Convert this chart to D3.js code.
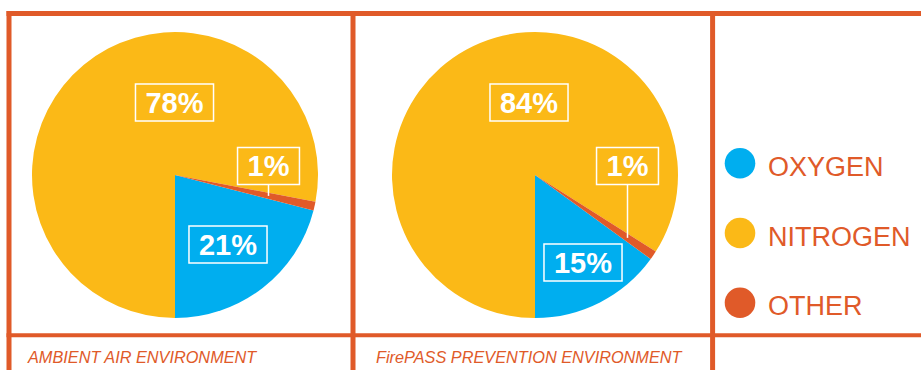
<!DOCTYPE html>
<html>
<head>
<meta charset="utf-8">
<script src="https://cdn.jsdelivr.net/npm/d3@7"></script>
<style>
  html, body { margin: 0; padding: 0; background: #fff; }
  svg { display: block; }
</style>
</head>
<body>
<div id="chart"></div>
<script>
// chart values
const gases = ["OXYGEN", "NITROGEN", "OTHER"];
const ambientValues = [21, 78, 1];
const firepassValues = [15, 84, 1];
const panelTitles = ["AMBIENT AIR ENVIRONMENT", "FirePASS PREVENTION ENVIRONMENT"];
// slices run counter-clockwise from 6 o'clock in this order
const sliceOrder = ["OXYGEN", "OTHER", "NITROGEN"];

const width = 921;
const height = 370;
const frameColor = "#E05A29";
const color = d3.scaleOrdinal()
    .domain(gases)
    .range(["#00AEEF", "#FBB917", "#E05A29"]);

// layout
const radius = 143;
const panels = [
    {values: ambientValues, cx: 175, cy: 175, titleX: 28,
     labels: {NITROGEN: [-0.5, -72.5], OTHER: [93.5, -9], OXYGEN: [53, 69.5]}},
    {values: firepassValues, cx: 535, cy: 175, titleX: 376,
     labels: {NITROGEN: [-6, -72.5], OTHER: [92.5, -9], OXYGEN: [48, 87.5]}}
];

const svg = d3.select("#chart").append("svg")
    .attr("width", width)
    .attr("height", height);

const pie = d3.pie()
    .value(d => d.value)
    .sort((a, b) => sliceOrder.indexOf(a.gas) - sliceOrder.indexOf(b.gas))
    .startAngle(Math.PI)
    .endAngle(-Math.PI);

const arc = d3.arc().innerRadius(0).outerRadius(radius);

panels.forEach((p, i) => {
    const rows = gases.map((g, j) => ({gas: g, value: p.values[j]}));
    const arcs = pie(rows);
    const g = svg.append("g").attr("transform", `translate(${p.cx},${p.cy})`);

    g.selectAll("path.slice")
        .data(arcs)
        .join("path")
            .attr("class", "slice")
            .attr("fill", d => color(d.data.gas))
            .attr("d", arc);

    // boxed percent labels
    const lab = g.selectAll("g.label")
        .data(arcs)
        .join("g")
            .attr("class", "label")
            .attr("transform", d => `translate(${p.labels[d.data.gas][0]},${p.labels[d.data.gas][1]})`);

    const txt = lab.append("text")
        .attr("text-anchor", "middle")
        .attr("y", 10.4)
        .attr("fill", "#fff")
        .style("font", "bold 29px 'Liberation Sans', Arial, Helvetica, sans-serif")
        .text(d => d.data.value + "%");

    lab.each(function(d) {
        const node = d3.select(this);
        const w = node.select("text").node().getComputedTextLength() + 20;
        node.insert("rect", "text")
            .attr("x", -w / 2)
            .attr("y", -18.5)
            .attr("width", w)
            .attr("height", 37)
            .attr("fill", "none")
            .attr("stroke", "#fff")
            .attr("stroke-width", 1.5);
    });

    // leader line from the small slice's box down to the slice
    const other = arcs.find(d => d.data.gas === "OTHER");
    const mid = (other.startAngle + other.endAngle) / 2;
    const [ox, oy] = p.labels.OTHER;
    const endY = -ox * Math.cos(mid) / Math.sin(mid);
    g.append("line")
        .attr("x1", ox).attr("x2", ox)
        .attr("y1", oy + 18.5).attr("y2", endY)
        .attr("stroke", "#fff")
        .attr("stroke-width", 1.5);

    svg.append("text")
        .attr("x", p.titleX)
        .attr("y", 362.5)
        .attr("fill", frameColor)
        .style("font", "italic 16.3px 'Liberation Sans', Arial, Helvetica, sans-serif")
        .text(panelTitles[i]);
});

// legend
const legend = svg.append("g")
    .selectAll("g")
    .data(gases)
    .join("g")
        .attr("transform", (d, i) => `translate(740,${163.3 + i * 69.7})`);

legend.append("circle")
    .attr("r", 15.3)
    .attr("fill", d => color(d));

legend.append("text")
    .attr("x", 28)
    .attr("y", 12.7)
    .attr("fill", frameColor)
    .style("font", "27px 'Liberation Sans', Arial, Helvetica, sans-serif")
    .text(d => d);

// frame
const frame = svg.append("g").attr("stroke", frameColor).attr("fill", "none");
frame.append("line").attr("x1", 6.5).attr("x2", width).attr("y1", 13.5).attr("y2", 13.5).attr("stroke-width", 5);
frame.append("line").attr("x1", 6.5).attr("x2", width).attr("y1", 335.3).attr("y2", 335.3).attr("stroke-width", 4);
[9, 353, 712.6].forEach(x => {
    frame.append("line").attr("x1", x).attr("x2", x).attr("y1", 11).attr("y2", height).attr("stroke-width", 5);
});
</script>
</body>
</html>
